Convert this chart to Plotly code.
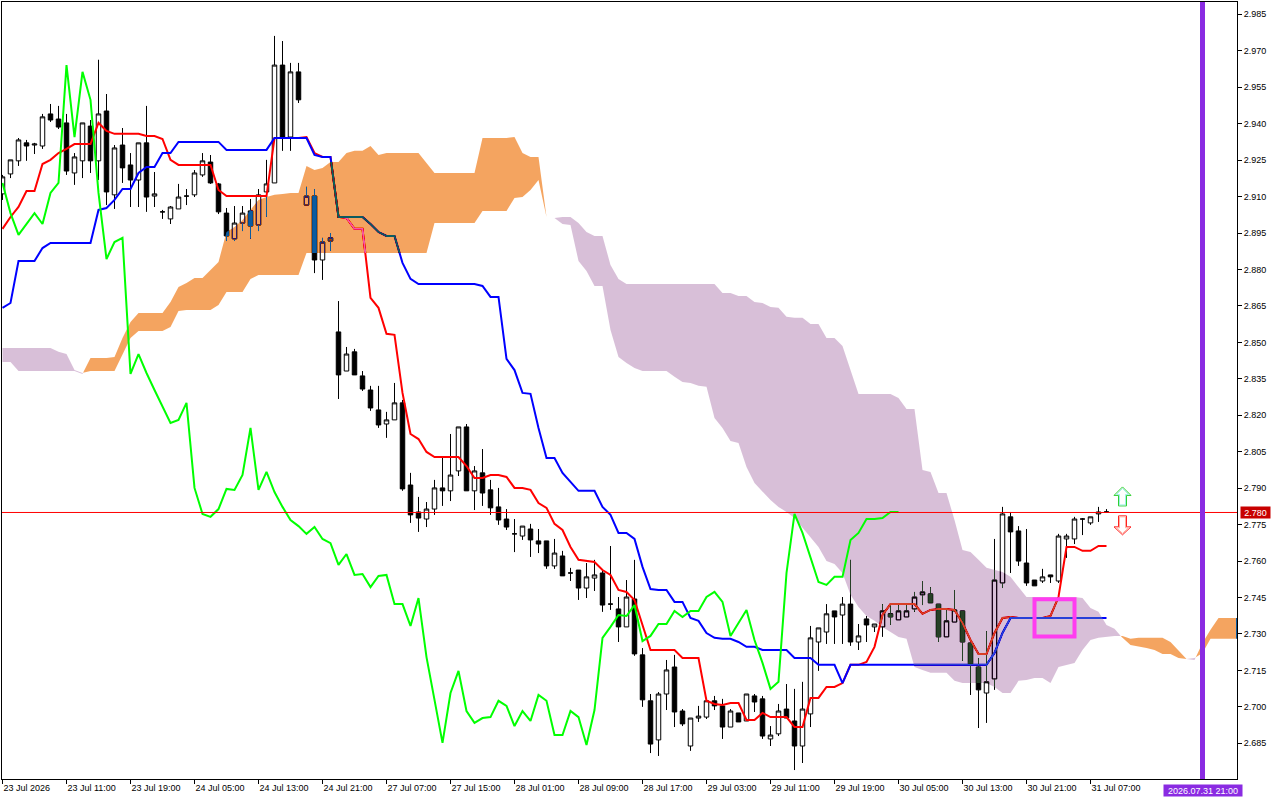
import plotly.graph_objects as go

# XAGUSD style H1 chart with ichimoku, one value per bar, prices
opens = [2.9111, 2.9193, 2.9247, 2.9321, 2.9312, 2.9308, 2.9440, 2.9419, 2.9403, 2.9197,
         2.9247, 2.9390, 2.9247, 2.9452, 2.9107, 2.9312, 2.9230, 2.9168, 2.9321, 2.9102,
         2.9037, 2.9008, 2.9049, 2.9102, 2.9107, 2.9189, 2.9242, 2.9152, 2.9032, 2.8926,
         2.8991, 2.9041, 2.8983, 2.9119, 2.9156, 2.9641, 2.9345, 2.9613, 2.9065, 2.9102,
         2.8839, 2.8917, 2.8543, 2.8382, 2.8461, 2.8362, 2.8304, 2.8222, 2.8164, 2.8181,
         2.8251, 2.7913, 2.7802, 2.7773, 2.7814, 2.7901, 2.7889, 2.7971, 2.8152, 2.7889,
         2.7963, 2.7893, 2.7823, 2.7773, 2.7712, 2.7703, 2.7732, 2.7683, 2.7683, 2.7580,
         2.7621, 2.7551, 2.7563, 2.7489, 2.7530, 2.7551, 2.7423, 2.7403, 2.7329, 2.7444,
         2.7214, 2.7025, 2.6864, 2.7053, 2.7164, 2.6983, 2.6839, 2.6954, 2.6958, 2.7025,
         2.7004, 2.6917, 2.6975, 2.6942, 2.7045, 2.7033, 2.6868, 2.6889, 2.6991, 2.6942,
         2.6839, 2.6971, 2.7267, 2.7308, 2.7395, 2.7378, 2.7423, 2.7267, 2.7362, 2.7329,
         2.7329, 2.7383, 2.7358, 2.7370, 2.7403, 2.7461, 2.7465, 2.7423, 2.7288, 2.7349,
         2.7395, 2.7263, 2.7164, 2.7057, 2.7115, 2.7510, 2.7782, 2.7724, 2.7592, 2.7522,
         2.7518, 2.7543, 2.7518, 2.7691, 2.7691, 2.7773, 2.7757, 2.7794, 2.7802]
highs = [2.9189, 2.9251, 2.9341, 2.9333, 2.9321, 2.9440, 2.9481, 2.9473, 2.9440, 2.9279,
         2.9403, 2.9415, 2.9663, 2.9522, 2.9312, 2.9382, 2.9279, 2.9321, 2.9473, 2.9201,
         2.9045, 2.9061, 2.9152, 2.9131, 2.9209, 2.9279, 2.9271, 2.9156, 2.9053, 2.9061,
         2.9061, 2.9090, 2.9131, 2.9251, 2.9761, 2.9740, 2.9650, 2.9650, 2.9140, 2.9131,
         2.8930, 2.8950, 2.8670, 2.8481, 2.8473, 2.8382, 2.8321, 2.8321, 2.8214, 2.8333,
         2.8263, 2.7963, 2.7864, 2.7843, 2.7934, 2.8024, 2.8123, 2.8152, 2.8164, 2.7991,
         2.8061, 2.7934, 2.7901, 2.7814, 2.7773, 2.7744, 2.7753, 2.7732, 2.7683, 2.7691,
         2.7642, 2.7572, 2.7563, 2.7592, 2.7605, 2.7563, 2.7662, 2.7452, 2.7522, 2.7605,
         2.7242, 2.7053, 2.7061, 2.7193, 2.7214, 2.6991, 2.6954, 2.7004, 2.7025, 2.7045,
         2.7033, 2.6991, 2.6975, 2.7053, 2.7053, 2.7045, 2.6921, 2.7012, 2.7094, 2.7074,
         2.7103, 2.7333, 2.7325, 2.7423, 2.7395, 2.7452, 2.7605, 2.7341, 2.7374, 2.7341,
         2.7423, 2.7423, 2.7419, 2.7423, 2.7473, 2.7518, 2.7493, 2.7423, 2.7399, 2.7481,
         2.7395, 2.7263, 2.7201, 2.7312, 2.7691, 2.7823, 2.7802, 2.7744, 2.7732, 2.7522,
         2.7568, 2.7543, 2.7712, 2.7712, 2.7782, 2.7777, 2.7782, 2.7823, 2.7814]
lows = [2.9086, 2.9176, 2.9226, 2.9247, 2.9275, 2.9296, 2.9407, 2.9378, 2.9189, 2.9148,
        2.9176, 2.9197, 2.9168, 2.9065, 2.9049, 2.9156, 2.9057, 2.9057, 2.9037, 2.9057,
        2.9008, 2.8987, 2.9049, 2.9065, 2.9098, 2.9181, 2.9152, 2.9028, 2.8917, 2.8917,
        2.8958, 2.8926, 2.8958, 2.9016, 2.9156, 2.9288, 2.9288, 2.9485, 2.9065, 2.8785,
        2.8757, 2.8876, 2.8267, 2.8382, 2.8366, 2.8300, 2.8218, 2.8148, 2.8107, 2.8181,
        2.7889, 2.7757, 2.7720, 2.7740, 2.7790, 2.7827, 2.7847, 2.7950, 2.7889, 2.7810,
        2.7827, 2.7790, 2.7749, 2.7728, 2.7637, 2.7687, 2.7617, 2.7633, 2.7568, 2.7568,
        2.7539, 2.7518, 2.7440, 2.7448, 2.7477, 2.7391, 2.7399, 2.7267, 2.7329, 2.7210,
        2.7000, 2.6810, 2.6798, 2.6987, 2.6917, 2.6921, 2.6819, 2.6938, 2.6950, 2.6987,
        2.6868, 2.6917, 2.6938, 2.6942, 2.6979, 2.6868, 2.6839, 2.6880, 2.6954, 2.6740,
        2.6769, 2.6917, 2.7148, 2.7259, 2.7259, 2.7259, 2.7251, 2.7234, 2.7267, 2.7308,
        2.7288, 2.7337, 2.7358, 2.7370, 2.7391, 2.7419, 2.7428, 2.7267, 2.7288, 2.7349,
        2.7189, 2.7049, 2.6913, 2.6934, 2.7070, 2.7489, 2.7551, 2.7580, 2.7498, 2.7498,
        2.7510, 2.7510, 2.7510, 2.7613, 2.7670, 2.7707, 2.7749, 2.7761, 2.7802]
closes = [2.9181, 2.9251, 2.9333, 2.9308, 2.9316, 2.9428, 2.9415, 2.9386, 2.9205, 2.9263,
          2.9403, 2.9247, 2.9440, 2.9119, 2.9300, 2.9218, 2.9168, 2.9321, 2.9098, 2.9111,
          2.9037, 2.9057, 2.9098, 2.9102, 2.9197, 2.9247, 2.9156, 2.9037, 2.8938, 2.8991,
          2.9032, 2.8979, 2.9107, 2.9152, 2.9641, 2.9345, 2.9613, 2.9498, 2.9102, 2.8839,
          2.8913, 2.8930, 2.8366, 2.8452, 2.8366, 2.8308, 2.8230, 2.8160, 2.8181, 2.8251,
          2.7897, 2.7790, 2.7777, 2.7814, 2.7901, 2.7889, 2.7954, 2.8152, 2.7889, 2.7971,
          2.7880, 2.7819, 2.7769, 2.7740, 2.7712, 2.7744, 2.7687, 2.7670, 2.7580, 2.7633,
          2.7539, 2.7551, 2.7489, 2.7535, 2.7543, 2.7419, 2.7423, 2.7329, 2.7452, 2.7218,
          2.7029, 2.6847, 2.7053, 2.7152, 2.6979, 2.6930, 2.6954, 2.6962, 2.7025, 2.7004,
          2.6917, 2.6983, 2.6938, 2.7053, 2.7020, 2.6880, 2.6884, 2.6983, 2.6954, 2.6839,
          2.6991, 2.7284, 2.7325, 2.7383, 2.7370, 2.7423, 2.7267, 2.7292, 2.7337, 2.7341,
          2.7395, 2.7370, 2.7395, 2.7395, 2.7452, 2.7473, 2.7428, 2.7288, 2.7354, 2.7399,
          2.7267, 2.7177, 2.7070, 2.7103, 2.7522, 2.7794, 2.7720, 2.7600, 2.7510, 2.7498,
          2.7535, 2.7535, 2.7703, 2.7703, 2.7773, 2.7773, 2.7782, 2.7802, 2.7802]

tenkan = [2.8967, 2.9016, 2.9057, 2.9123, 2.9123, 2.9234, 2.9251, 2.9279, 2.9296, 2.9316,
          2.9316, 2.9316, 2.9403, 2.9370, 2.9358, 2.9358, 2.9358, 2.9358, 2.9349, 2.9349,
          2.9337, 2.9251, 2.9230, 2.9230, 2.9230, 2.9230, 2.9230, 2.9127, 2.9102, 2.9102,
          2.9102, 2.9102, 2.9102, 2.9102, 2.9341, 2.9341, 2.9341, 2.9341, 2.9345, 2.9279,
          2.9263, 2.9263, 2.9016, 2.9012, 2.8967, 2.8967, 2.8683, 2.8642, 2.8535, 2.8531,
          2.8292, 2.8123, 2.8102, 2.8049, 2.8028, 2.8028, 2.8028, 2.8028, 2.7991, 2.7942,
          2.7942, 2.7954, 2.7954, 2.7946, 2.7901, 2.7901, 2.7893, 2.7839, 2.7819, 2.7753,
          2.7728, 2.7658, 2.7605, 2.7600, 2.7596, 2.7563, 2.7543, 2.7481, 2.7473, 2.7440,
          2.7337, 2.7234, 2.7234, 2.7234, 2.7234, 2.7201, 2.7201, 2.7201, 2.7025, 2.7012,
          2.7008, 2.7016, 2.7016, 2.6946, 2.6946, 2.6975, 2.6958, 2.6958, 2.6958, 2.6917,
          2.6917, 2.7037, 2.7037, 2.7082, 2.7082, 2.7098, 2.7173, 2.7173, 2.7185, 2.7247,
          2.7378, 2.7423, 2.7423, 2.7423, 2.7423, 2.7383, 2.7399, 2.7403, 2.7403, 2.7399,
          2.7345, 2.7275, 2.7218, 2.7218, 2.7304, 2.7366, 2.7370, 2.7366, 2.7366, 2.7366,
          2.7366, 2.7374, 2.7452, 2.7658, 2.7658, 2.7642, 2.7642, 2.7662, 2.7662]
kijun = [2.8642, 2.8662, 2.8835, 2.8835, 2.8835, 2.8888, 2.8909, 2.8909, 2.8909, 2.8909,
         2.8909, 2.8909, 2.9045, 2.9053, 2.9086, 2.9131, 2.9131, 2.9197, 2.9222, 2.9222,
         2.9279, 2.9279, 2.9325, 2.9325, 2.9325, 2.9325, 2.9325, 2.9325, 2.9292, 2.9292,
         2.9292, 2.9292, 2.9292, 2.9292, 2.9341, 2.9341, 2.9341, 2.9341, 2.9341, 2.9271,
         2.9263, 2.9263, 2.9016, 2.9016, 2.9016, 2.9016, 2.8987, 2.8954, 2.8938, 2.8938,
         2.8827, 2.8761, 2.8740, 2.8740, 2.8740, 2.8740, 2.8740, 2.8740, 2.8740, 2.8740,
         2.8732, 2.8687, 2.8687, 2.8432, 2.8386, 2.8292, 2.8288, 2.8148, 2.8024, 2.8024,
         2.7963, 2.7925, 2.7889, 2.7889, 2.7889, 2.7823, 2.7790, 2.7716, 2.7716, 2.7691,
         2.7576, 2.7485, 2.7481, 2.7481, 2.7432, 2.7432, 2.7366, 2.7354, 2.7304, 2.7284,
         2.7280, 2.7280, 2.7267, 2.7247, 2.7247, 2.7234, 2.7234, 2.7234, 2.7234, 2.7201,
         2.7201, 2.7201, 2.7173, 2.7173, 2.7173, 2.7098, 2.7173, 2.7173, 2.7173, 2.7173,
         2.7173, 2.7173, 2.7173, 2.7173, 2.7173, 2.7173, 2.7173, 2.7173, 2.7173, 2.7173,
         2.7173, 2.7173, 2.7173, 2.7173, 2.7222, 2.7304, 2.7366, 2.7366, 2.7366, 2.7366,
         2.7366, 2.7366, 2.7366, 2.7366, 2.7366, 2.7366, 2.7366, 2.7366, 2.7366]
chikou = [2.9156, 2.9032, 2.8942, 2.8987, 2.9032, 2.8987, 2.9115, 2.9156, 2.9641, 2.9345,
          2.9613, 2.9498, 2.9115, 2.8843, 2.8913, 2.8930, 2.8370, 2.8452, 2.8374, 2.8304,
          2.8234, 2.8168, 2.8181, 2.8251, 2.7901, 2.7794, 2.7782, 2.7814, 2.7897, 2.7893,
          2.7954, 2.8148, 2.7893, 2.7967, 2.7884, 2.7823, 2.7769, 2.7744, 2.7712, 2.7740,
          2.7691, 2.7674, 2.7584, 2.7629, 2.7543, 2.7547, 2.7493, 2.7539, 2.7543, 2.7423,
          2.7423, 2.7333, 2.7448, 2.7205, 2.7029, 2.6852, 2.7057, 2.7148, 2.6983, 2.6934,
          2.6954, 2.6958, 2.7025, 2.7004, 2.6921, 2.6983, 2.6942, 2.7049, 2.7025, 2.6884,
          2.6884, 2.6983, 2.6958, 2.6843, 2.6987, 2.7284, 2.7329, 2.7378, 2.7374, 2.7419,
          2.7271, 2.7292, 2.7341, 2.7341, 2.7395, 2.7370, 2.7395, 2.7395, 2.7452, 2.7473,
          2.7432, 2.7292, 2.7345, 2.7399, 2.7275, 2.7181, 2.7074, 2.7103, 2.7551, 2.7794,
          2.7716, 2.7617, 2.7514, 2.7502, 2.7535, 2.7535, 2.7687, 2.7716, 2.7773, 2.7773,
          2.7777, 2.7802, 2.7802]
# senkou spans run 26 bars past the last candle
span_a = [2.8419, 2.8419, 2.8382, 2.8382, 2.8382, 2.8382, 2.8382, 2.8382, 2.8382, 2.8382,
          2.8370, 2.8436, 2.8436, 2.8436, 2.8440, 2.8518, 2.8584, 2.8621, 2.8621, 2.8621,
          2.8621, 2.8666, 2.8728, 2.8744, 2.8765, 2.8765, 2.8798, 2.8831, 2.8954, 2.8975,
          2.9004, 2.9045, 2.9086, 2.9098, 2.9107, 2.9111, 2.9115, 2.9115, 2.9226, 2.9209,
          2.9218, 2.9242, 2.9242, 2.9279, 2.9288, 2.9288, 2.9308, 2.9271, 2.9279, 2.9279,
          2.9279, 2.9279, 2.9279, 2.9238, 2.9197, 2.9197, 2.9197, 2.9197, 2.9197, 2.9197,
          2.9341, 2.9341, 2.9341, 2.9341, 2.9345, 2.9279, 2.9263, 2.9263, 2.9016, 2.9012,
          2.8987, 2.8983, 2.8835, 2.8794, 2.8732, 2.8732, 2.8551, 2.8440, 2.8415, 2.8395,
          2.8382, 2.8382, 2.8382, 2.8382, 2.8358, 2.8337, 2.8333, 2.8321, 2.8317, 2.8189,
          2.8148, 2.8094, 2.8086, 2.7987, 2.7921, 2.7884, 2.7851, 2.7823, 2.7802, 2.7777,
          2.7736, 2.7695, 2.7658, 2.7600, 2.7588, 2.7551, 2.7461, 2.7411, 2.7374, 2.7354,
          2.7329, 2.7308, 2.7288, 2.7280, 2.7164, 2.7152, 2.7140, 2.7140, 2.7140, 2.7107,
          2.7098, 2.7098, 2.7098, 2.7098, 2.7082, 2.7057, 2.7057, 2.7107, 2.7111, 2.7119,
          2.7119, 2.7098, 2.7164, 2.7173, 2.7181, 2.7234, 2.7275, 2.7284, 2.7288, 2.7292,
          2.7292, 2.7280, 2.7284, 2.7284, 2.7284, 2.7284, 2.7267, 2.7230, 2.7197, 2.7193,
          2.7263, 2.7317, 2.7366, 2.7366, 2.7366]
span_b = [2.8477, 2.8477, 2.8477, 2.8477, 2.8477, 2.8477, 2.8477, 2.8461, 2.8452, 2.8386,
          2.8374, 2.8382, 2.8382, 2.8382, 2.8382, 2.8448, 2.8518, 2.8547, 2.8547, 2.8547,
          2.8547, 2.8563, 2.8629, 2.8633, 2.8633, 2.8633, 2.8633, 2.8654, 2.8707, 2.8707,
          2.8707, 2.8761, 2.8777, 2.8777, 2.8777, 2.8777, 2.8777, 2.8777, 2.8868, 2.8868,
          2.8868, 2.8868, 2.8868, 2.8868, 2.8868, 2.8868, 2.8868, 2.8868, 2.8868, 2.8868,
          2.8868, 2.8868, 2.8868, 2.8868, 2.8991, 2.8991, 2.8991, 2.8991, 2.8991, 2.8991,
          2.9041, 2.9041, 2.9041, 2.9041, 2.9094, 2.9098, 2.9127, 2.9168, 2.9016, 2.9012,
          2.9016, 2.9016, 2.8991, 2.8954, 2.8938, 2.8938, 2.8818, 2.8761, 2.8740, 2.8740,
          2.8740, 2.8740, 2.8740, 2.8740, 2.8740, 2.8740, 2.8740, 2.8740, 2.8740, 2.8740,
          2.8703, 2.8703, 2.8691, 2.8691, 2.8666, 2.8662, 2.8646, 2.8642, 2.8605, 2.8601,
          2.8601, 2.8576, 2.8576, 2.8518, 2.8518, 2.8485, 2.8386, 2.8288, 2.8288, 2.8288,
          2.8288, 2.8288, 2.8271, 2.8226, 2.8226, 2.7975, 2.7967, 2.7880, 2.7880, 2.7769,
          2.7646, 2.7637, 2.7605, 2.7572, 2.7563, 2.7555, 2.7535, 2.7493, 2.7452, 2.7452,
          2.7452, 2.7452, 2.7452, 2.7452, 2.7452, 2.7448, 2.7407, 2.7391, 2.7337, 2.7321,
          2.7284, 2.7255, 2.7247, 2.7242, 2.7234, 2.7218, 2.7218, 2.7201, 2.7197, 2.7201,
          2.7222, 2.7280, 2.7280, 2.7280, 2.7280]

tick_bars = [0, 8, 16, 24, 32, 40, 48, 56, 64, 72, 80, 88, 96, 104, 112, 120, 128, 136]
tick_labels = ['23 Jul 2026', '23 Jul 11:00', '23 Jul 19:00', '24 Jul 05:00', '24 Jul 13:00', '24 Jul 21:00',
               '27 Jul 07:00', '27 Jul 15:00', '28 Jul 01:00', '28 Jul 09:00', '28 Jul 17:00', '29 Jul 03:00',
               '29 Jul 11:00', '29 Jul 19:00', '30 Jul 05:00', '30 Jul 13:00', '30 Jul 21:00', '31 Jul 07:00']
last_price = 2.780
cursor_bar = 150
cursor_label = '2026.07.31 21:00'
box_bars = [129, 134]
box_prices = [2.7290, 2.7443]
arrow_bar = 140
arrow_up_price = 2.7866
arrow_down_price = 2.7747

font_name = 'Liberation Sans'
font_size = 9
x_range = [-0.0625, 154.3125]
y_range = [2.67032, 2.99006]
# colours that give sandy brown / thistle on white when the layer is differenced
orange_xor = '#0B5B9F'
thistle_xor = '#274027'


def cloud_polygons(sign):
    # walk the spans, add the crossings, and keep the stretches where sign*(a-b) >= 0
    points = []
    for i in range(len(span_a)):
        points.append((i, span_a[i], span_b[i]))
        if i < len(span_a) - 1:
            d0 = span_a[i] - span_b[i]
            d1 = span_a[i + 1] - span_b[i + 1]
            if d0 * d1 < 0:
                t = d0 / (d0 - d1)
                level = span_a[i] + t * (span_a[i + 1] - span_a[i])
                points.append((i + t, level, level))
    points.append((x_range[1], span_a[-1], span_b[-1]))

    out_x, out_y = [], []
    run = []
    for p in points + [None]:
        if p is not None and sign * (p[1] - p[2]) >= 0:
            run.append(p)
            continue
        if len(run) > 1:
            out_x += [r[0] for r in run] + [r[0] for r in reversed(run)] + [None]
            out_y += [r[1] for r in run] + [r[2] for r in reversed(run)] + [None]
        run = []
    return out_x, out_y


bars = list(range(len(opens)))
fig = go.Figure()
fig.add_trace(go.Candlestick(x=bars, open=opens, high=highs, low=lows, close=closes, whiskerwidth=0,
                             increasing=dict(line=dict(color='#000000', width=1), fillcolor='#FFFFFF'),
                             decreasing=dict(line=dict(color='#000000', width=1), fillcolor='#000000'),
                             hoverinfo='skip'))
fig.add_trace(go.Scatter(x=bars, y=tenkan, mode='lines', line=dict(color='#FF0000', width=2), hoverinfo='skip'))
fig.add_trace(go.Scatter(x=bars, y=kijun, mode='lines', line=dict(color='#0000FF', width=2), hoverinfo='skip'))
# the two cloud traces are differenced against what is under them (see post_script)
for sign, colour in [(1, orange_xor), (-1, thistle_xor)]:
    cloud_x, cloud_y = cloud_polygons(sign)
    fig.add_trace(go.Scatter(x=cloud_x, y=cloud_y, mode='lines', fill='toself', fillcolor=colour,
                             line=dict(width=0), hoverinfo='skip'))
fig.add_trace(go.Scatter(x=list(range(len(chikou))), y=chikou, mode='lines',
                         line=dict(color='#00FF00', width=2), hoverinfo='skip'))

up_outer = 'M 0 9.5 L 8.5 1 L 4 1 L 4 -9.5 L -4 -9.5 L -4 1 L -8.5 1 Z'
up_inner = 'M 0 8 L 6 2 L 3 2 L 3 -8.5 L -3 -8.5 L -3 2 L -6 2 Z'
down_outer = 'M -4 9.5 L 4 9.5 L 4 -1.5 L 8.5 -1.5 L 0 -9.5 L -8.5 -1.5 L -4 -1.5 Z'
down_inner = 'M -3 8.5 L 3 8.5 L 3 -2.5 L 6 -2.5 L 0 -8 L -6 -2.5 L -3 -2.5 Z'


def arrow(path, price, colour, fill='rgba(255,255,255,0)'):
    return dict(type='path', path=path, xsizemode='pixel', ysizemode='pixel', xanchor=arrow_bar, yanchor=price,
                xref='x', yref='y', line=dict(color=colour, width=1), fillcolor=fill)


shapes = [
    dict(type='line', xref='paper', x0=0, x1=1, yref='y', y0=last_price, y1=last_price,
         line=dict(color='#FF0000', width=1)),
    dict(type='line', xref='x', x0=cursor_bar, x1=cursor_bar, yref='paper', y0=0, y1=1,
         line=dict(color='#8A2BE2', width=5)),
    dict(type='rect', xref='x', x0=box_bars[0], x1=box_bars[1], yref='y', y0=box_prices[0], y1=box_prices[1],
         line=dict(color='#FF3CF0', width=4)),
    arrow(up_outer, arrow_up_price, '#30D030', '#FFFFFF'),
    arrow(up_inner, arrow_up_price, '#A0F0E8'),
    arrow(down_outer, arrow_down_price, '#FF2020', '#FFFFFF'),
    arrow(down_inner, arrow_down_price, '#FFB0A0'),
]
annotations = [
    dict(text='%.3f' % last_price, xref='paper', x=1, xanchor='left', xshift=3, yref='y', y=last_price,
         yanchor='middle', showarrow=False, bgcolor='#C80000', width=29, height=11, borderpad=0,
         font=dict(family=font_name, size=font_size, color='#FFFFFF')),
    dict(text=cursor_label, xref='x', x=cursor_bar, xanchor='center', yref='paper', y=0, yanchor='top', yshift=-5,
         showarrow=False, bgcolor='#8A2BE2', width=78, height=11, borderpad=0,
         font=dict(family=font_name, size=font_size, color='#FFFFFF')),
]

fig.update_layout(width=1280, height=800, margin=dict(l=2, r=43, t=2, b=21),
                  paper_bgcolor='#FFFFFF', plot_bgcolor='#FFFFFF', showlegend=False, boxgap=0.2,
                  font=dict(family=font_name, size=font_size, color='#000000'),
                  shapes=shapes, annotations=annotations, hovermode=False)
fig.update_xaxes(range=x_range, rangeslider_visible=False, showgrid=False, zeroline=False,
                 tickmode='array', tickvals=tick_bars, ticktext=tick_labels, tickangle=0,
                 ticks='outside', ticklen=4, tickcolor='#000000', ticklabelposition='outside right',
                 showline=True, linecolor='#000000', linewidth=1, mirror=True)
fig.update_yaxes(range=y_range, side='right', showgrid=False, zeroline=False, tick0=2.985, dtick=0.015,
                 tickformat='.3f', ticks='outside', ticklen=4, tickcolor='#000000',
                 showline=True, linecolor='#000000', linewidth=1, mirror=True)

# MT4 paints the cloud with XOR: difference blend gives the same colours over candles and lines.
# The plot group is isolated by its clip, so it needs its own white backdrop to blend against.
post_script = """
document.body.style.margin = '0';
document.documentElement.style.overflow = 'hidden';
var gd = document.getElementById('{plot_id}');
var size = gd._fullLayout._size;
var traces = gd.querySelectorAll('.scatterlayer .trace');
var plot = traces[0].closest('.scatterlayer').parentNode;
var backdrop = document.createElementNS('http://www.w3.org/2000/svg', 'rect');
backdrop.setAttribute('width', size.w);
backdrop.setAttribute('height', size.h);
backdrop.setAttribute('fill', '#FFFFFF');
plot.insertBefore(backdrop, plot.firstChild);
[2, 3].forEach(function (k) {
    traces[k].querySelectorAll('.js-fill').forEach(function (path) {
        path.style.mixBlendMode = 'difference';
    });
});
"""
fig.write_html("out.html", post_script=post_script, config={'displayModeBar': False})
